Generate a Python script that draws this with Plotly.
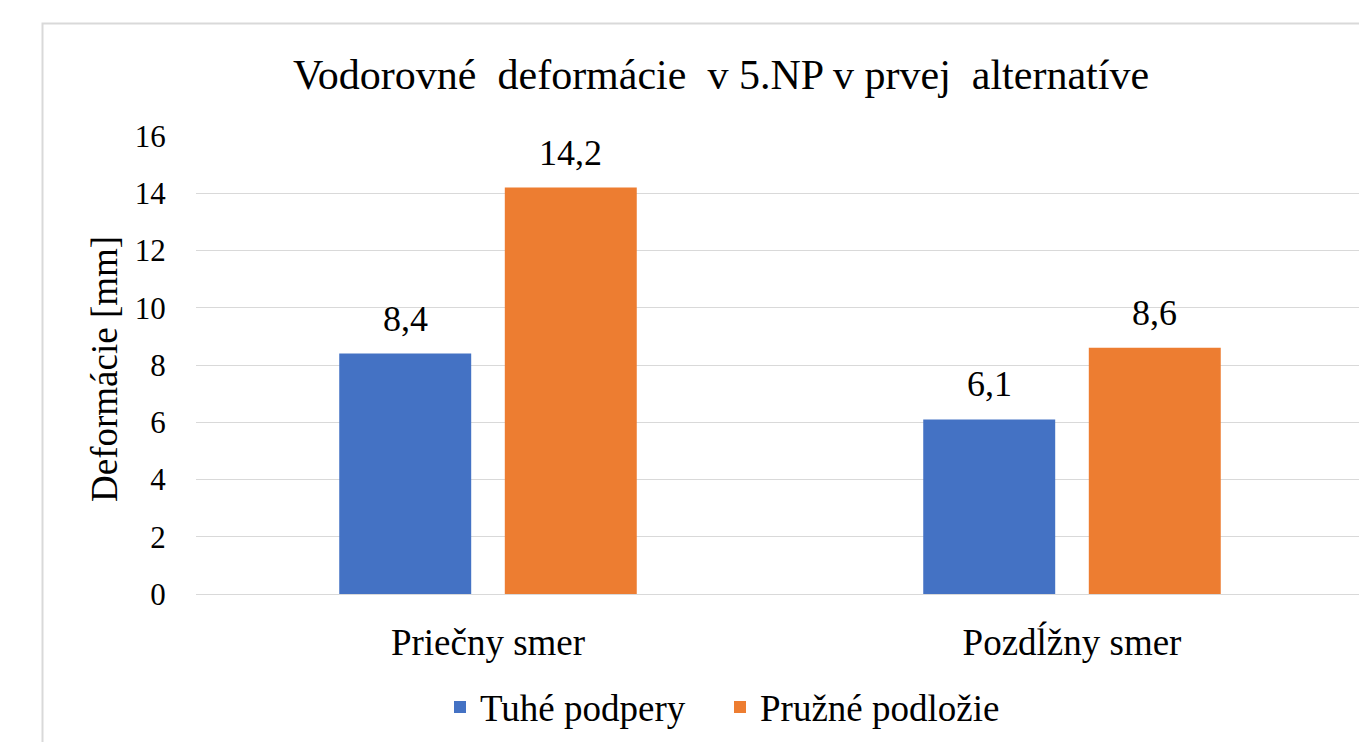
import plotly.graph_objects as go

categories = ["Priečny smer", "Pozdĺžny smer"]
series_names = ["Tuhé podpery", "Pružné podložie"]
tuhe_podpery = [8.4, 6.1]
pruzne_podlozie = [14.2, 8.6]
y_ticks = [0, 2, 4, 6, 8, 10, 12, 14, 16]
colors = ["#4472C4", "#ED7D31"]

FONT = "'Liberation Serif', 'Times New Roman', Times, serif"
OFF = 8  # page body margin
W, H = 1367 - OFF, 742 - OFF
L, R, T, B = 196 - OFF, 3, 136 - OFF, 146
bargap = 0.433
bargroupgap = 0.203

fig = go.Figure()
for name, vals, col in zip(series_names, [tuhe_podpery, pruzne_podlozie], colors):
    fig.add_trace(go.Bar(name=name, x=categories, y=vals, marker_color=col,
                         marker_line_width=0))

slot = (1 - bargap) / 2
annotations = []
for j, vals in enumerate([tuhe_podpery, pruzne_podlozie]):
    for i, v in enumerate(vals):
        annotations.append(dict(
            x=i + (j - 0.5) * slot, y=v, xref="x", yref="y",
            text=f"{v:.1f}".replace(".", ","), showarrow=False,
            yanchor="bottom", yshift=13,
            font=dict(family=FONT, size=36, color="#000000")))

pw = W - L - R
ph = H - T - B
annotations.append(dict(
    x=(105 - OFF - L) / pw, y=0.5 - 4 / ph, xref="paper", yref="paper",
    text="Deformácie [mm]", textangle=-90, showarrow=False,
    xanchor="center", yanchor="middle",
    font=dict(family=FONT, size=37, color="#000000")))

fig.update_layout(
    width=W, height=H,
    margin=dict(l=L, r=R, t=T, b=B),
    paper_bgcolor="white", plot_bgcolor="white",
    separators=", ",
    barmode="group", bargap=bargap, bargroupgap=bargroupgap,
    title=dict(text="Vodorovné\u00a0 deformácie\u00a0 v 5.NP v prvej\u00a0 alternatíve",
               x=(721 - OFF) / W, xanchor="center", y=1 - (74 - OFF) / H, yanchor="middle",
               font=dict(family=FONT, size=42, color="#000000")),
    font=dict(family=FONT, color="#000000"),
    showlegend=True,
    legend=dict(orientation="h", x=(440 - OFF - L) / pw, xanchor="left",
                y=-(710 - 596) / ph, yanchor="middle",
                font=dict(family=FONT, size=37, color="#000000"),
                itemwidth=30, entrywidth=235, entrywidthmode="pixels",
                traceorder="normal"),
    annotations=annotations,
    shapes=[dict(type="rect", xref="paper", yref="paper",
                 x0=(42.5 - OFF - L) / pw, x1=1.2, y0=-0.6, y1=(596 - 23) / ph,
                 line=dict(color="#D9D9D9", width=2), fillcolor="rgba(0,0,0,0)",
                 layer="below")],
)
fig.update_xaxes(showgrid=False, showline=False, zeroline=False,
                 ticks="outside", ticklen=16, tickcolor="rgba(0,0,0,0)",
                 tickfont=dict(family=FONT, size=37, color="#000000"))
fig.update_yaxes(range=[0, 16], tickvals=y_ticks, showgrid=True,
                 gridcolor="#D9D9D9", gridwidth=1, zeroline=True,
                 zerolinecolor="#D9D9D9", zerolinewidth=1, showline=False,
                 ticks="outside", ticklen=23, tickcolor="rgba(0,0,0,0)",
                 tickfont=dict(family=FONT, size=31, color="#000000"))

fig.write_html("out.html")
